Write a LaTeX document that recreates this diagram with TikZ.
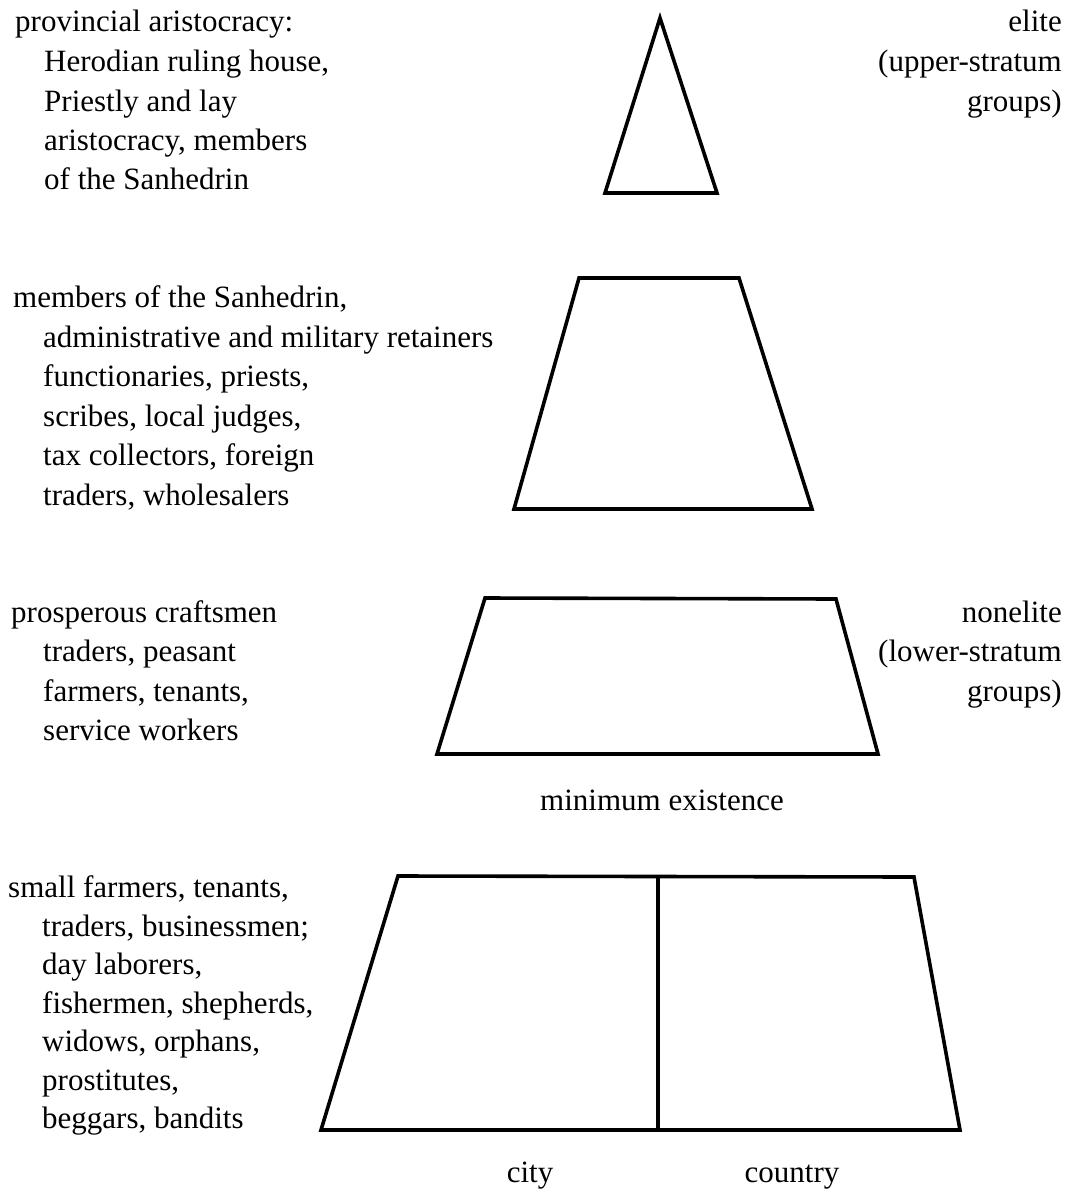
\documentclass[tikz,border=0pt]{standalone}
\usepackage{fontspec}
\setmainfont{Liberation Serif}
\begin{document}
\begin{tikzpicture}[x=1pt,y=-1pt,
  lbl/.style={font=\fontsize{31}{39}\selectfont, inner sep=0pt},
  stratum/.style={draw=black, line width=3.6pt, line join=miter}]
\useasboundingbox (0,0) rectangle (1070,1199);
% shapes
\coordinate (tA) at (660,18);
\coordinate (tB) at (717,193);
\coordinate (tC) at (605,193);
\draw[stratum] (tA) -- (tB) -- (tC) -- cycle;
\coordinate (bTL) at (579,278); \coordinate (bTR) at (739,278);
\coordinate (bBR) at (812,509); \coordinate (bBL) at (514,509);
\draw[stratum] (bTL) -- (bTR) -- (bBR) -- (bBL) -- cycle;
\coordinate (cTL) at (485,598); \coordinate (cTR) at (836,599);
\coordinate (cBR) at (878,754); \coordinate (cBL) at (437,754);
\draw[stratum] (cTL) -- (cTR) -- (cBR) -- (cBL) -- cycle;
\coordinate (dTL) at (398,876); \coordinate (dTR) at (914,877);
\coordinate (dBR) at (960,1130); \coordinate (dBL) at (321,1130);
\coordinate (dTM) at (658,876); \coordinate (dBM) at (658,1130);
\draw[stratum] (dTL) -- (dTR) -- (dBR) -- (dBL) -- cycle;
\draw[stratum] (dTM) -- (dBM);
% left texts
\foreach \n/\x/\y/\t in {
  a1/15/32/{provincial aristocracy:},
  a2/44/71/{Herodian ruling house,},
  a3/44/111/{Priestly and lay},
  a4/44/150/{aristocracy, members},
  a5/44/189/{of the Sanhedrin},
  b1/13/307/{members of the Sanhedrin,},
  b2/43/347/{administrative and military retainers},
  b3/43/386/{functionaries, priests,},
  b4/43/426/{scribes, local judges,},
  b5/43/465/{tax collectors, foreign},
  b6/43/505/{traders, wholesalers},
  c1/11/622/{prosperous craftsmen},
  c2/43/661/{traders, peasant},
  c3/43/701/{farmers, tenants,},
  c4/43/740/{service workers},
  d1/8/897/{small farmers, tenants,},
  d2/42/936/{traders, businessmen;},
  d3/42/974/{day laborers,},
  d4/42/1013/{fishermen, shepherds,},
  d5/42/1051/{widows, orphans,},
  d6/42/1090/{prostitutes,},
  d7/42/1128/{beggars, bandits}}
  \node[lbl, anchor=base west] (\n) at (\x,\y) {\t};
% right texts
\foreach \n/\y/\t in {
  r1/32/{elite},
  r2/71/{(upper-stratum},
  r3/111/{groups)},
  s1/622/{nonelite},
  s2/661/{(lower-stratum},
  s3/701/{groups)}}
  \node[lbl, anchor=base east] (\n) at (1062,\y) {\t};
% bottom labels
\node[lbl, anchor=base] (minex) at (662,810) {minimum existence};
\node[lbl, anchor=base] (city) at (530,1182) {city};
\node[lbl, anchor=base] (country) at (792,1182) {country};
\end{tikzpicture}
\end{document}
